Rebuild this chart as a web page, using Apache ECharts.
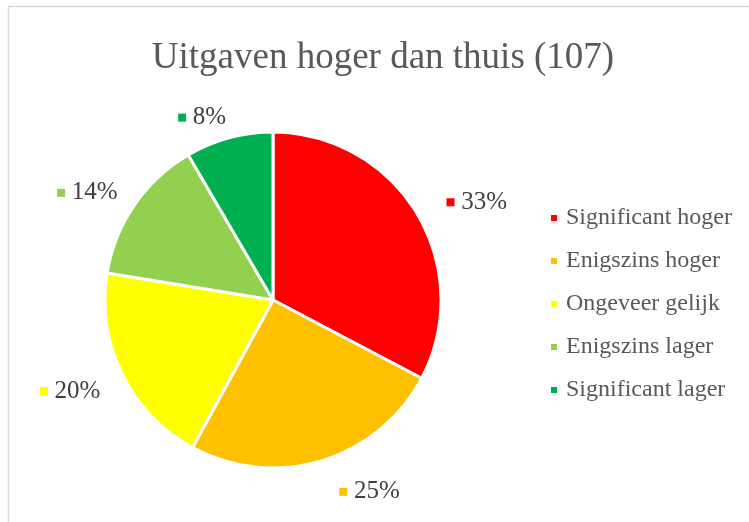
<!DOCTYPE html>
<html><head><meta charset="utf-8">
<script src="https://cdn.jsdelivr.net/npm/echarts@6/dist/echarts.min.js"></script>
<style>html,body{margin:0;padding:0;background:#fff}#c{width:749px;height:522px}</style>
</head><body><div id="c"></div>
<script>
const categories = ['Significant hoger','Enigszins hoger','Ongeveer gelijk','Enigszins lager','Significant lager'];
const counts = [35, 27, 21, 15, 9];
const colors = ['#FF0000','#FFC000','#FFFF00','#92D050','#00B050'];
const titleText = 'Uitgaven hoger dan thuis (107)';
const labelNudgeX = [5, 6, 4, 7, 8];
const labelNudgeY = [1, 9, 7, 1, 2];
const total = counts.reduce((a,b)=>a+b,0);
const FONT = '"Liberation Serif", "Times New Roman", serif';

const chart = echarts.init(document.getElementById('c'), null, {renderer:'canvas'});
const data = categories.map((n,i)=>({
  name:n, value:counts[i],
  itemStyle:{color:colors[i]},
  label:{rich:{s:{backgroundColor:colors[i]}}}
}));
chart.setOption({
  animation:false,
  backgroundColor:'#fff',
  graphic:[{type:'polyline',shape:{points:[[8.5,530],[8.5,6.5],[760,6.5]]},style:{stroke:'#d9d9d9',lineWidth:1.5,fill:null},silent:true}],
  title:{text:titleText,left:378,top:35,textAlign:'center',
    textStyle:{fontFamily:FONT,fontSize:37,fontWeight:'normal',color:'#595959'}},
  legend:{orient:'vertical',left:544,top:201,itemWidth:8,itemHeight:8,itemGap:19,icon:'rect',
    data:categories,
    textStyle:{fontFamily:FONT,fontSize:24,lineHeight:24,color:'#595959',padding:[0,0,0,3]}},
  series:[{
    type:'pie',center:[273,300],radius:168,startAngle:90,clockwise:true,
    avoidLabelOverlap:false,
    itemStyle:{borderColor:'#fff',borderWidth:3},
    data:data,
    label:{show:true,position:'outside',
      formatter:p=>'{s|}  {v|'+Math.round(p.value/total*100)+'%}',
      rich:{s:{width:8,height:8},v:{fontFamily:FONT,fontSize:25,color:'#404040'}}},
    labelLine:{show:false,length:23,length2:0},
    labelLayout:p=>({dx:labelNudgeX[p.dataIndex],dy:labelNudgeY[p.dataIndex]})
  }]
});
</script></body></html>
